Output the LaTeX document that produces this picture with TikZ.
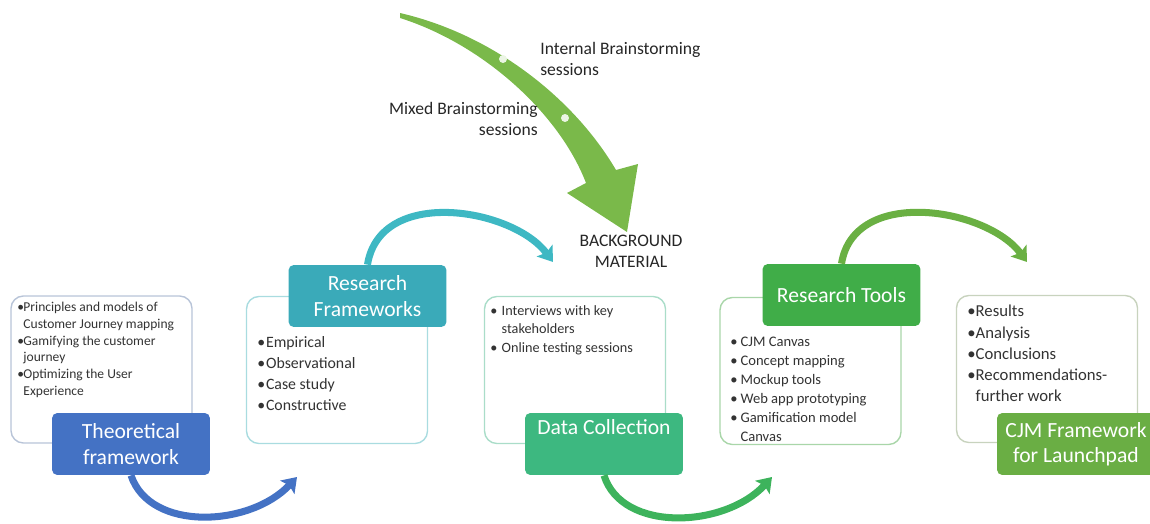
\documentclass[tikz,border=0pt]{standalone}
\usepackage{fontspec}
\setmainfont{Carlito}
\usetikzlibrary{arrows.meta}

\definecolor{theoblue}{HTML}{4472C4}
\definecolor{frameteal}{HTML}{3AAAB9}
\definecolor{datagreen}{HTML}{3DB880}
\definecolor{toolgreen}{HTML}{40AD48}
\definecolor{cjmgreen}{HTML}{6AAE44}
\definecolor{theoline}{HTML}{B8C4D8}
\definecolor{frameline}{HTML}{A9DCE0}
\definecolor{dataline}{HTML}{AADDC9}
\definecolor{toolline}{HTML}{A9D6A9}
\definecolor{cjmline}{HTML}{C8D3BE}
\definecolor{arcteal}{HTML}{3EB8C3}
\definecolor{arcgreen}{HTML}{3DB35C}
\definecolor{arclime}{HTML}{6AB043}
\definecolor{bigarrow}{HTML}{7AB94A}

\newcommand{\blt}[1][0.6em]{\makebox[#1][l]{\textbullet}}
\newcommand{\bltind}[1][0.6em]{\hspace*{#1}}

\begin{document}
\begin{tikzpicture}[x=0.02cm,y=-0.02cm]
% styles des boîtes
\tikzstyle{bodybox}=[rectangle,draw,line width=0.8pt,rounded corners=7pt,fill=white,minimum width=3.62cm,minimum height=2.94cm]
\tikzstyle{titlebox}=[rectangle,rounded corners=3pt,text=white,align=center,minimum width=3.16cm,minimum height=1.24cm,font=\fontsize{12.3}{14.5}\selectfont]
\tikzstyle{itemtext}=[anchor=north west,align=left,inner sep=0pt,text=black!80]
\tikzstyle{note}=[inner sep=0pt,text=black!85,font=\fontsize{10}{12}\selectfont]
% style des flèches
\tikzstyle{flowarrow}=[->,>={Stealth[length=8pt,width=11pt,inset=1.5pt]},line width=4pt]
\useasboundingbox (0,0) rectangle (1150,524);

% grande flèche du haut
\fill[bigarrow] (400,13) .. controls (495,35) and (575,100) .. (616,170) -- (638,164) -- (627,232) -- (567,193) -- (586,183) .. controls (560,115) and (485,45) .. (400,18) -- cycle;
\fill[white!85!bigarrow] (503,59) circle (4);
\fill[white!85!bigarrow] (565,118) circle (4);
\node[note,anchor=north west,align=left] (internal) at (540,42) {Internal Brainstorming\\sessions};
\node[note,anchor=north east,align=right] (mixed) at (538,102) {Mixed Brainstorming\\sessions};
\node[note,align=center] (background) at (631,251) {BACKGROUND\\MATERIAL};

% boîtes de contenu
\node[bodybox,draw=theoline] (theobox) at (101.5,369.5) {};
\node[bodybox,draw=frameline] (framebox) at (337,370) {};
\node[bodybox,draw=dataline] (databox) at (575,370) {};
\node[bodybox,draw=toolline] (toolbox) at (810.5,371) {};
\node[bodybox,draw=cjmline] (cjmbox) at (1047,369) {};

% textes des boîtes
\node[itemtext,font=\fontsize{7.7}{9.5}\selectfont] (theotext) at (17,302)
  {\blt[0.45em]Principles and models of\\\bltind[0.45em]Customer Journey mapping\\
   \blt[0.45em]Gamifying the customer\\\bltind[0.45em]journey\\
   \blt[0.45em]Optimizing the User\\\bltind[0.45em]Experience};
\node[itemtext,font=\fontsize{9}{12}\selectfont] (frametext) at (257,336)
  {\blt[0.55em]Empirical\\\blt[0.55em]Observational\\\blt[0.55em]Case study\\\blt[0.55em]Constructive};
\node[itemtext,font=\fontsize{8.1}{10.5}\selectfont] (datatext) at (490,305)
  {\blt[0.8em]Interviews with key\\\bltind[0.8em]stakeholders\\\blt[0.8em]Online testing sessions};
\node[itemtext,font=\fontsize{8.3}{10.8}\selectfont] (tooltext) at (730,337)
  {\blt[0.7em]CJM Canvas\\\blt[0.7em]Concept mapping\\\blt[0.7em]Mockup tools\\\blt[0.7em]Web app prototyping\\
   \blt[0.7em]Gamification model\\\bltind[0.7em]Canvas};
\node[itemtext,font=\fontsize{9.5}{12}\selectfont] (cjmtext) at (967,305)
  {\blt[0.5em]Results\\\blt[0.5em]Analysis\\\blt[0.5em]Conclusions\\\blt[0.5em]Recommendations-\\\bltind[0.5em]further work};

% titres
\node[titlebox,fill=theoblue] (theo) at (131,444) {Theoretical\\framework};
\node[titlebox,fill=frameteal] (frame) at (367.5,296) {Research\\Frameworks};
\node[titlebox,fill=datagreen] (data) at (604,444) {Data Collection\\\strut};
\node[titlebox,fill=toolgreen] (tool) at (841.5,295) {Research Tools};
\node[titlebox,fill=cjmgreen] (cjm) at (1076,444) {CJM Framework\\for Launchpad};

% pointes des flèches
\coordinate (tipA) at (297,477);
\coordinate (tipB) at (553,262);
\coordinate (tipC) at (772,477);
\coordinate (tipD) at (1027,262);

% flèches courbes
\draw[flowarrow,theoblue] (theo.south) .. controls (150,532) and (250,527) .. (tipA);
\draw[flowarrow,arcteal] (frame.north) .. controls (380,186) and (513,208) .. (tipB);
\draw[flowarrow,arcgreen] (data.south) .. controls (622,533) and (725,528) .. (tipC);
\draw[flowarrow,arclime] (tool.north) .. controls (854,186) and (987,208) .. (tipD);

\end{tikzpicture}
\end{document}
